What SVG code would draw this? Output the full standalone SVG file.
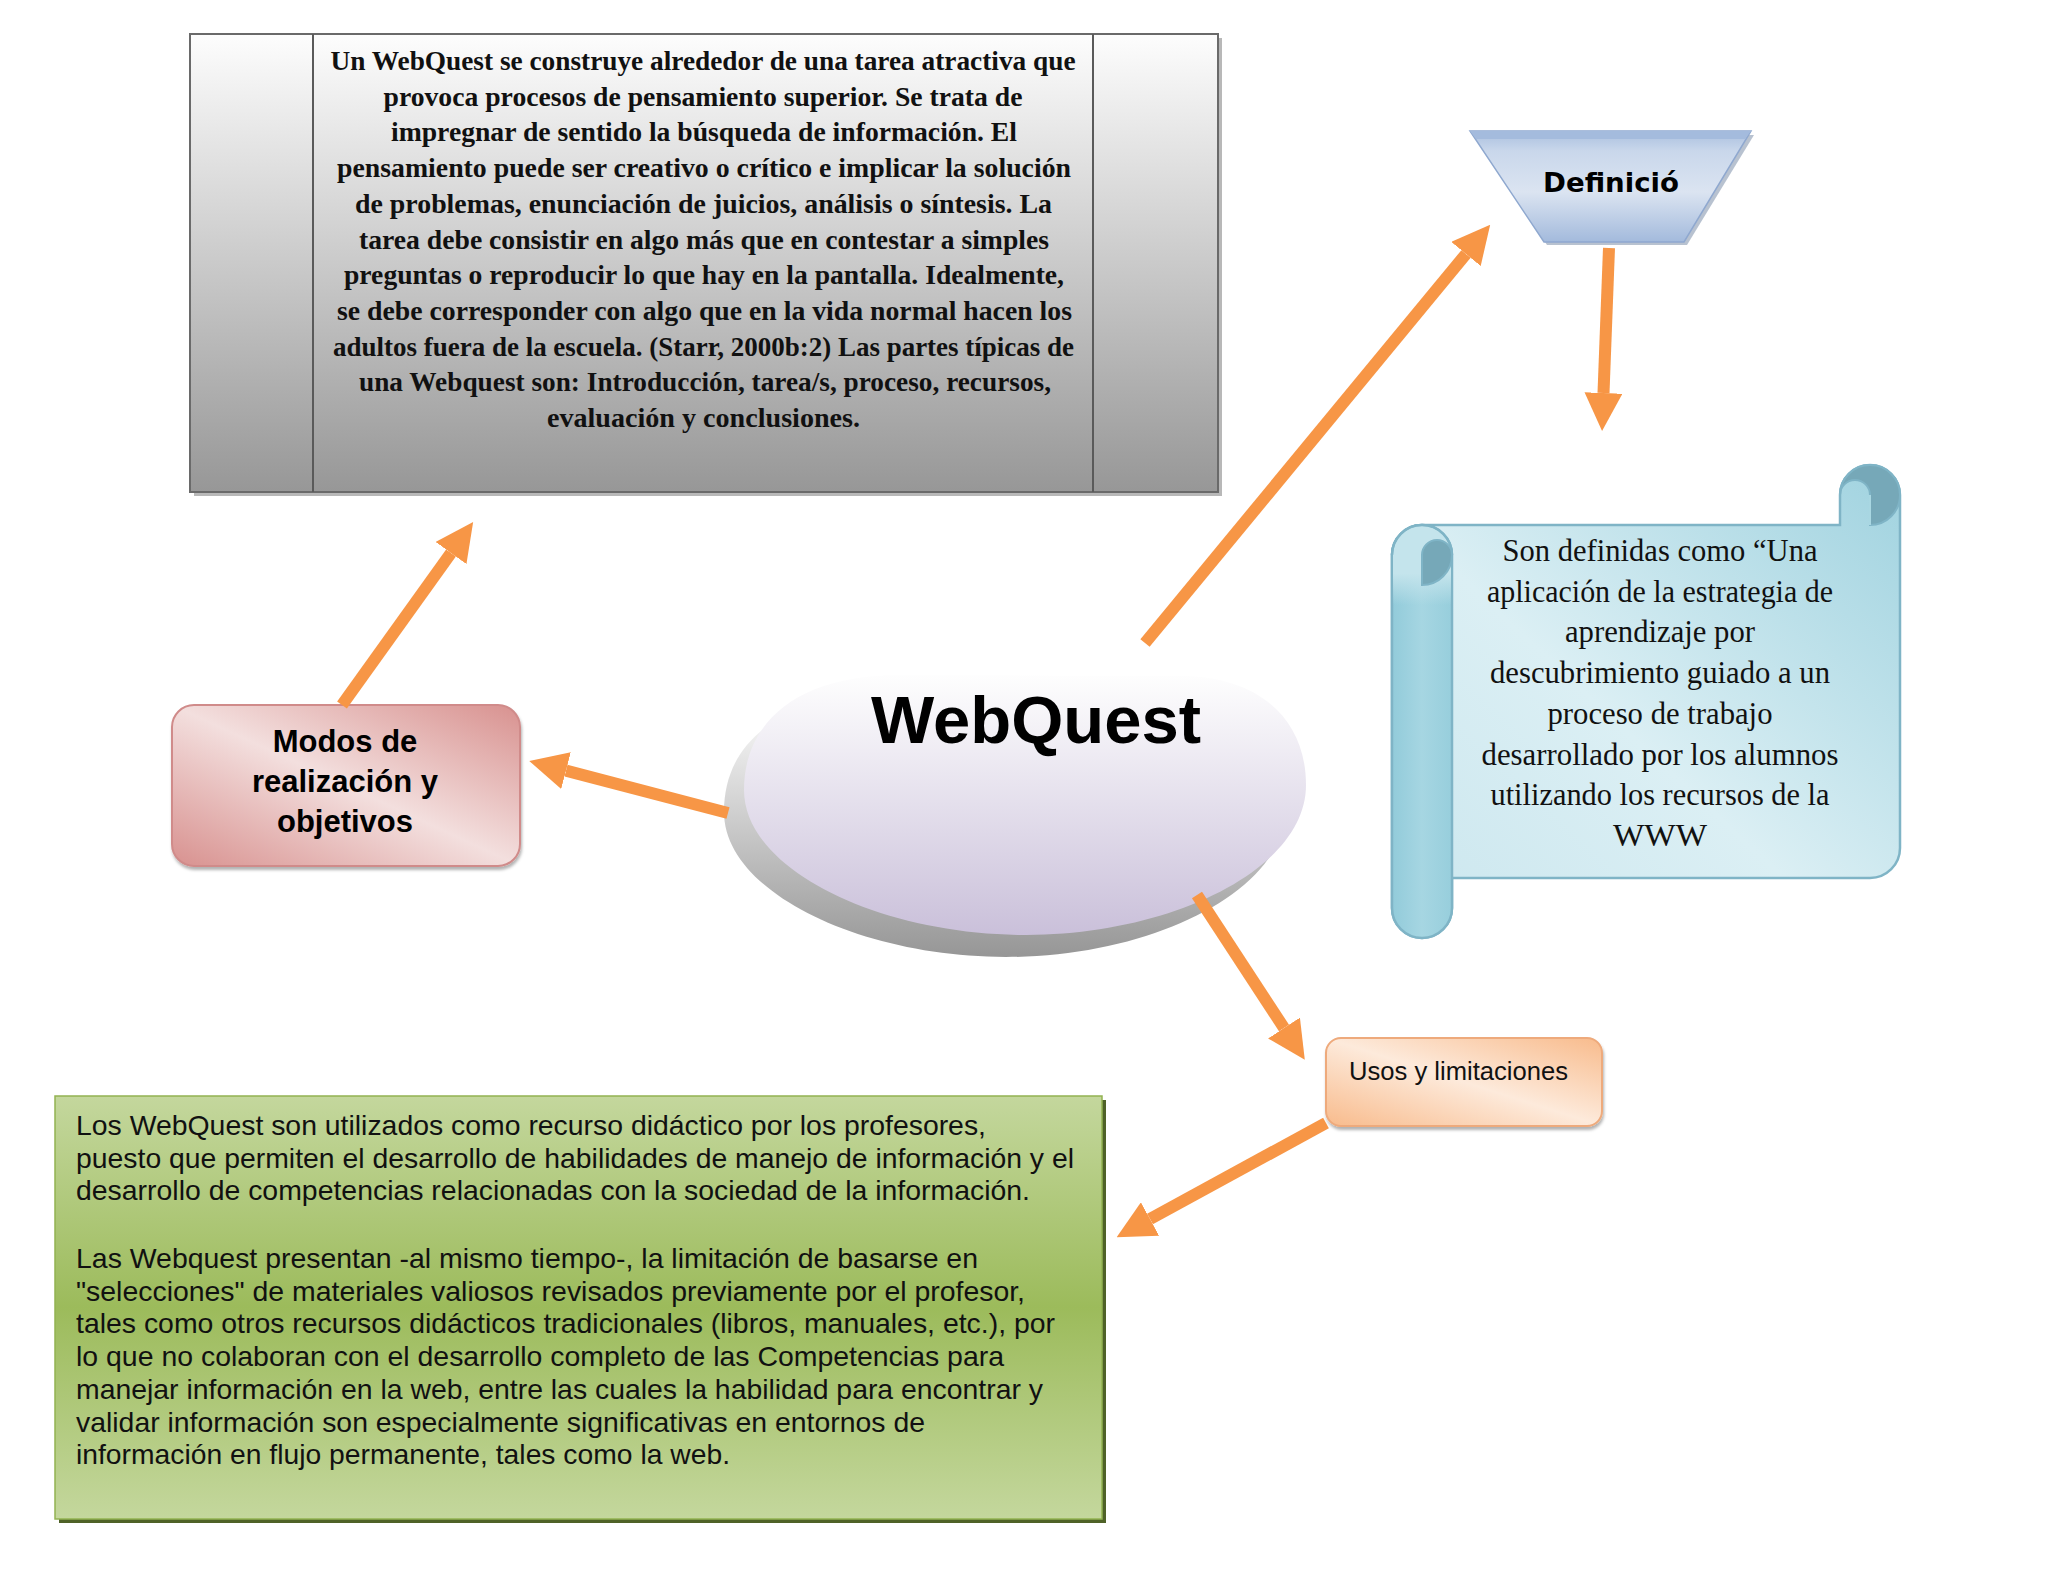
<svg xmlns="http://www.w3.org/2000/svg" width="2048" height="1582" viewBox="0 0 2048 1582">
<defs>
<style>
.tg{font-family:"Liberation Serif",serif;font-weight:bold;font-size:28px;fill:#111;text-anchor:middle}
.ts{font-family:"Liberation Serif",serif;font-size:31px;fill:#111;text-anchor:middle}
.tm{font-family:"Liberation Sans",Arial,sans-serif;font-weight:bold;font-size:31px;fill:#000;text-anchor:middle}
.tw{font-family:"Liberation Sans",Arial,sans-serif;font-weight:bold;font-size:67px;fill:#000;text-anchor:middle}
.td{font-family:"DejaVu Sans",sans-serif;font-weight:bold;font-size:26px;fill:#000;text-anchor:middle}
.tu{font-family:"Liberation Sans",Arial,sans-serif;font-size:25px;fill:#111}
.tv{font-family:"Liberation Sans",Arial,sans-serif;font-size:28px;fill:#111}
.conn{stroke:#f79646;stroke-width:12;fill:none;marker-end:url(#ah)}
</style>
<marker id="ah" viewBox="0 0 38 38" markerWidth="38" markerHeight="38" markerUnits="userSpaceOnUse" refX="0" refY="19" orient="auto">
<path d="M0,0 L38,19 L0,38 Z" fill="#f79646"/>
</marker>
<linearGradient id="gGray" x1="0" y1="0" x2="0" y2="1">
<stop offset="0" stop-color="#fdfdfd"/><stop offset="0.5" stop-color="#cacaca"/><stop offset="1" stop-color="#979797"/>
</linearGradient>
<linearGradient id="gDef" x1="0" y1="0" x2="0" y2="1">
<stop offset="0" stop-color="#a9bfdf"/><stop offset="0.18" stop-color="#c9d7eb"/><stop offset="0.55" stop-color="#dbe4f1"/><stop offset="1" stop-color="#a3badc"/>
</linearGradient>
<linearGradient id="gScroll" x1="1" y1="0" x2="0" y2="1">
<stop offset="0" stop-color="#9fd2df"/><stop offset="0.55" stop-color="#dbeff4"/><stop offset="1" stop-color="#cae6ee"/>
</linearGradient>
<linearGradient id="gRoll" x1="0" y1="0" x2="1" y2="0">
<stop offset="0" stop-color="#92cbda"/><stop offset="0.5" stop-color="#a6d6e2"/><stop offset="1" stop-color="#97cedc"/>
</linearGradient>
<linearGradient id="gRollTop" x1="0" y1="0" x2="0" y2="1">
<stop offset="0" stop-color="#c4e4ec"/><stop offset="0.6" stop-color="#c4e4ec"/><stop offset="1" stop-color="#c4e4ec" stop-opacity="0"/>
</linearGradient>
<linearGradient id="gTop" gradientUnits="userSpaceOnUse" x1="0" y1="675" x2="0" y2="935">
<stop offset="0" stop-color="#fefefe"/><stop offset="1" stop-color="#cac0da"/>
</linearGradient>
<linearGradient id="gSide" gradientUnits="userSpaceOnUse" x1="0" y1="720" x2="0" y2="957">
<stop offset="0" stop-color="#f4f4f4"/><stop offset="1" stop-color="#969696"/>
</linearGradient>
<linearGradient id="gPink" x1="1" y1="0" x2="0" y2="1">
<stop offset="0" stop-color="#d8918f"/><stop offset="0.5" stop-color="#f3dfde"/><stop offset="1" stop-color="#d8918f"/>
</linearGradient>
<linearGradient id="gPeach" x1="1" y1="0" x2="0" y2="1">
<stop offset="0" stop-color="#f8bb8c"/><stop offset="0.5" stop-color="#fdeadb"/><stop offset="1" stop-color="#f8bb8c"/>
</linearGradient>
<linearGradient id="gGreen" x1="0" y1="0" x2="0" y2="1">
<stop offset="0" stop-color="#c4d79d"/><stop offset="0.5" stop-color="#9cbb5b"/><stop offset="1" stop-color="#c4d79d"/>
</linearGradient>
<filter id="sh" x="-5%" y="-5%" width="115%" height="120%">
<feDropShadow dx="1" dy="3" stdDeviation="1.5" flood-color="#000" flood-opacity="0.3"/>
</filter>
</defs>
<rect width="2048" height="1582" fill="#ffffff"/>

<g id="node-descripcion">
<rect x="194" y="38" width="1028" height="458" fill="#b8b8b8"/>
<rect x="190" y="34" width="1028" height="458" fill="url(#gGray)" stroke="#6a6a6a" stroke-width="2"/>
<line x1="313" y1="34" x2="313" y2="492" stroke="#5a5a5a" stroke-width="2"/>
<line x1="1093" y1="34" x2="1093" y2="492" stroke="#5a5a5a" stroke-width="2"/>
<text class="tg" x="703" y="70" textLength="745" lengthAdjust="spacingAndGlyphs">Un WebQuest se construye alrededor de una tarea atractiva que</text>
<text class="tg" x="703" y="105.7" textLength="639" lengthAdjust="spacingAndGlyphs">provoca procesos de pensamiento superior. Se trata de</text>
<text class="tg" x="704" y="141.4" textLength="626" lengthAdjust="spacingAndGlyphs">impregnar de sentido la búsqueda de información. El</text>
<text class="tg" x="704" y="177.1" textLength="734" lengthAdjust="spacingAndGlyphs">pensamiento puede ser creativo o crítico e implicar la solución</text>
<text class="tg" x="703.5" y="212.8" textLength="697" lengthAdjust="spacingAndGlyphs">de problemas, enunciación de juicios, análisis o síntesis. La</text>
<text class="tg" x="704" y="248.5" textLength="690" lengthAdjust="spacingAndGlyphs">tarea debe consistir en algo más que en contestar a simples</text>
<text class="tg" x="704" y="284.2" textLength="720" lengthAdjust="spacingAndGlyphs">preguntas o reproducir lo que hay en la pantalla. Idealmente,</text>
<text class="tg" x="704.5" y="319.9" textLength="735" lengthAdjust="spacingAndGlyphs">se debe corresponder con algo que en la vida normal hacen los</text>
<text class="tg" x="703.5" y="355.6" textLength="741" lengthAdjust="spacingAndGlyphs">adultos fuera de la escuela. (Starr, 2000b:2) Las partes típicas de</text>
<text class="tg" x="705" y="391.3" textLength="692" lengthAdjust="spacingAndGlyphs">una Webquest son: Introducción, tarea/s, proceso, recursos,</text>
<text class="tg" x="703.5" y="427" textLength="313" lengthAdjust="spacingAndGlyphs">evaluación y conclusiones.</text>
</g>

<g id="node-definicio">
<polygon points="1473,135 1754,135 1687,245 1547,245" fill="#9aa8bc" opacity="0.7"/>
<polygon points="1470,131 1751,131 1684,242 1544,242" fill="url(#gDef)" stroke="#8fa8cf" stroke-width="1.5"/>
<polygon points="1470,131 1751,131 1745,139 1476,139" fill="#a4bbdd"/>
<text class="td" x="1611" y="192" textLength="136" lengthAdjust="spacingAndGlyphs">Definició</text>
</g>

<g id="node-definicion-texto">
<path d="M1392,555 A30,30 0 0 1 1422,525 L1840,525 L1840,495 A30,30 0 0 1 1900,495 L1900,848 A30,30 0 0 1 1870,878 L1452,878 L1452,908 A30,30 0 0 1 1392,908 Z" fill="url(#gScroll)" stroke="#7fb4c6" stroke-width="2.5"/>
<path d="M1392,555 A30,30 0 0 1 1452,555 L1452,908 A30,30 0 0 1 1392,908 Z" fill="url(#gRoll)" stroke="#7fb4c6" stroke-width="2.5"/>
<path d="M1393,555 A29,29 0 0 1 1451,555 L1451,605 L1393,605 Z" fill="url(#gRollTop)"/>
<path d="M1392,555 A30,30 0 0 1 1452,555" fill="none" stroke="#7fb4c6" stroke-width="2.5"/>
<path d="M1422,585 A30,30 0 0 0 1452,555 A15,15 0 0 0 1422,555 Z" fill="#76a8b8" stroke="#7fb4c6" stroke-width="2"/>
<path d="M1870,525 A30,30 0 1 0 1840,495 A15,15 0 0 1 1870,495 Z" fill="#76a8b8" stroke="#7fb4c6" stroke-width="2"/>
<line x1="1870" y1="495" x2="1870" y2="525" stroke="#a9d7e2" stroke-width="2"/>
<text class="ts" x="1660" y="561" textLength="315" lengthAdjust="spacingAndGlyphs">Son definidas como “Una</text>
<text class="ts" x="1660" y="601.7" textLength="346" lengthAdjust="spacingAndGlyphs">aplicación de la estrategia de</text>
<text class="ts" x="1660" y="642.4" textLength="190" lengthAdjust="spacingAndGlyphs">aprendizaje por</text>
<text class="ts" x="1660" y="683.1" textLength="340" lengthAdjust="spacingAndGlyphs">descubrimiento guiado a un</text>
<text class="ts" x="1660" y="723.8" textLength="225" lengthAdjust="spacingAndGlyphs">proceso de trabajo</text>
<text class="ts" x="1660" y="764.5" textLength="357" lengthAdjust="spacingAndGlyphs">desarrollado por los alumnos</text>
<text class="ts" x="1660" y="805.2" textLength="339" lengthAdjust="spacingAndGlyphs">utilizando los recursos de la</text>
<text class="ts" x="1660" y="846" textLength="94" lengthAdjust="spacingAndGlyphs">WWW</text>
</g>

<g id="node-webquest">
<path d="M724,812 C724,742 780,697 880,697 L1160,698 C1240,698 1286,742 1286,807 C1286,892 1150,957 1006,957 C860,957 724,892 724,812 Z" fill="url(#gSide)"/>
<path d="M744,790 C744,720 800,675 900,675 L1180,676 C1260,676 1306,720 1306,785 C1306,870 1170,935 1026,935 C880,935 744,870 744,790 Z" fill="url(#gTop)"/>
<text class="tw" x="1036" y="743">WebQuest</text>
</g>

<g id="node-modos">
<rect x="172" y="705" width="348" height="161" rx="22" fill="url(#gPink)" stroke="#d08b8a" stroke-width="2" filter="url(#sh)"/>
<text class="tm" x="345" y="752">Modos de</text>
<text class="tm" x="345" y="792">realización y</text>
<text class="tm" x="345" y="832">objetivos</text>
</g>

<g id="node-usos">
<rect x="1326" y="1038" width="276" height="88" rx="15" fill="url(#gPeach)" stroke="#eeaa7c" stroke-width="2" filter="url(#sh)"/>
<text class="tu" x="1349" y="1080" textLength="219" lengthAdjust="spacingAndGlyphs">Usos y limitaciones</text>
</g>

<g id="node-usos-texto">
<rect x="59" y="1100" width="1047" height="423" fill="#4f6228"/>
<rect x="55" y="1096" width="1047" height="423" fill="url(#gGreen)" stroke="#93b352" stroke-width="1.5"/>
<text class="tv" x="76" y="1135" textLength="910" lengthAdjust="spacingAndGlyphs">Los WebQuest son utilizados como recurso didáctico por los profesores,</text>
<text class="tv" x="76" y="1167.7" textLength="998" lengthAdjust="spacingAndGlyphs">puesto que permiten el desarrollo de habilidades de manejo de información y el</text>
<text class="tv" x="76" y="1200.4" textLength="954" lengthAdjust="spacingAndGlyphs">desarrollo de competencias relacionadas con la sociedad de la información.</text>
<text class="tv" x="76" y="1268" textLength="902" lengthAdjust="spacingAndGlyphs">Las Webquest presentan -al mismo tiempo-, la limitación de basarse en</text>
<text class="tv" x="76" y="1300.7" textLength="949" lengthAdjust="spacingAndGlyphs">"selecciones" de materiales valiosos revisados previamente por el profesor,</text>
<text class="tv" x="76" y="1333.4" textLength="979" lengthAdjust="spacingAndGlyphs">tales como otros recursos didácticos tradicionales (libros, manuales, etc.), por</text>
<text class="tv" x="76" y="1366.1" textLength="928" lengthAdjust="spacingAndGlyphs">lo que no colaboran con el desarrollo completo de las Competencias para</text>
<text class="tv" x="76" y="1398.8" textLength="967" lengthAdjust="spacingAndGlyphs">manejar información en la web, entre las cuales la habilidad para encontrar y</text>
<text class="tv" x="76" y="1431.5" textLength="849" lengthAdjust="spacingAndGlyphs">validar información son especialmente significativas en entornos de</text>
<text class="tv" x="76" y="1464.2" textLength="654" lengthAdjust="spacingAndGlyphs">información en flujo permanente, tales como la web.</text>
</g>

<g id="connectors">
<line class="conn" x1="1145" y1="643" x2="1466" y2="254"/>
<line class="conn" x1="1609" y1="248" x2="1603.5" y2="393"/>
<line class="conn" x1="728" y1="813" x2="566" y2="770.6"/>
<line class="conn" x1="342" y1="705" x2="451" y2="553"/>
<line class="conn" x1="1197" y1="895" x2="1284" y2="1028"/>
<line class="conn" x1="1326" y1="1123" x2="1150" y2="1219"/>
</g>
</svg>
